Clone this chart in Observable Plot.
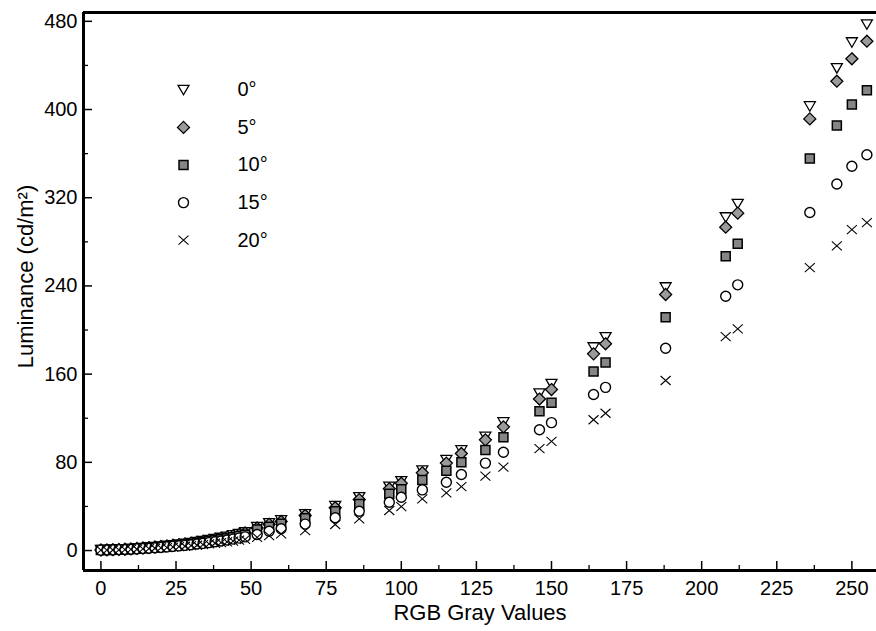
<!DOCTYPE html>
<html><head><meta charset="utf-8">
<script src="https://cdn.jsdelivr.net/npm/d3@7"></script>
<script src="https://cdn.jsdelivr.net/npm/@observablehq/plot@0.6"></script>
<style>
body{margin:0;background:#fff;}
svg{display:block}
</style>
</head><body><div id="chart"></div>
<script>
// ---- data ----
const gray = [0,2,4,6,8,10,12,14,16,18,20,22,24,26,28,30,32,34,36,38,40,42,44,46,48,
  52,56,60,68,78,86,96,100,107,115,120,128,134,146,150,164,168,188,208,212,236,245,250,255];

const lum0 = [0.5,0.6,0.8,1.0,1.3,1.6,2.0,2.4,2.8,3.3,3.8,4.4,5.0,5.6,6.3,7.0,7.8,8.7,9.6,10.6,11.6,12.7,13.9,15.1,16.6,
  21.5,24.8,27.5,33,40.5,48.4,58,63,72.8,82.3,91,103.4,116.4,142.5,151.2,184.4,193.5,238.8,302.3,314.5,403,437.5,461,477.3];
const lum5 = [0.5,0.6,0.8,1.0,1.2,1.5,1.9,2.3,2.7,3.2,3.7,4.2,4.8,5.4,6.0,6.7,7.5,8.3,9.2,10.2,11.1,12.2,13.3,14.5,15.9,
  20.5,23.8,26.4,31.8,38.8,46.2,56,61,70.5,79.3,88,100.4,112.2,137.4,146,178.4,187.5,232.2,293.3,306,391.5,425.7,446,462];
const lum10 = [0.4,0.5,0.7,0.9,1.1,1.4,1.7,2.1,2.5,2.9,3.3,3.9,4.4,4.9,5.5,6.1,6.8,7.6,8.4,9.3,10.2,11.1,12.1,13.2,14.4,
  19,21.5,24.2,29.2,35.7,42.3,51.4,55.5,64,72.3,80,91.3,102.8,126.3,134,162.4,170.5,211.6,267,278.2,355.5,385.5,404.5,417.5];
const lum15 = [0.4,0.5,0.6,0.8,1.0,1.2,1.5,1.8,2.1,2.5,2.9,3.3,3.8,4.2,4.7,5.3,5.9,6.5,7.2,8.0,8.7,9.5,10.4,11.3,12.4,
  14.5,17.5,19.7,24,29.7,35.7,43.8,48.4,55,62,69,79.3,89.2,109.5,116,141.5,148,183.5,230.7,241,306.6,332.4,348.5,359];
const lum20 = [0.3,0.4,0.5,0.6,0.8,1.0,1.2,1.5,1.8,2.1,2.4,2.7,3.1,3.5,3.9,4.4,4.8,5.4,6.0,6.6,7.2,7.9,8.6,9.4,10.2,
  12,13.5,15.1,18.1,23.6,28.7,36.3,39.9,46.9,52.3,58,67.5,75.6,92.5,99,118.6,124.5,154.2,194.1,201,256.6,276.4,291,297.5];

const seriesLabels = ["0°","5°","10°","15°","20°"];
const xTicks = [0,25,50,75,100,125,150,175,200,225,250];
const xMinor = [12.5,37.5,62.5,87.5,112.5,137.5,162.5,187.5,212.5,237.5];
const yTicks = [0,80,160,240,320,400,480];
const yMinor = [40,120,200,280,360,440];
const xTitle = "RGB Gray Values";
const yTitle = "Luminance (cd/m²)";

// ---- layout ----
const W = 876, H = 631, mL = 83, mR = 0, mT = 12, mB = 61;
const xDomain = [-5.8, 258.2], yDomain = [-18.1, 488];
const frameW = W - mL - mR, frameH = H - mT - mB;

// ---- symbols ----
const rad = s => Math.sqrt(s / Math.PI);
const triDown = {draw(c, s){ const r = rad(s); c.moveTo(-1.1*r,-0.9*r); c.lineTo(1.1*r,-0.9*r); c.lineTo(0,r); c.closePath(); }};
const diamond = {draw(c, s){ const r = rad(s)*1.2; c.moveTo(0,-r); c.lineTo(r,0); c.lineTo(0,r); c.lineTo(-r,0); c.closePath(); }};
const square = {draw(c, s){ const r = rad(s)*0.9; c.moveTo(-r,-r); c.lineTo(r,-r); c.lineTo(r,r); c.lineTo(-r,r); c.closePath(); }};
const circle = {draw(c, s){ const r = rad(s); c.moveTo(r,0); c.arc(0,0,r,0,2*Math.PI); c.closePath(); }};
const times = {draw(c, s){ const r = rad(s); c.moveTo(-r,-0.9*r); c.lineTo(r,0.9*r); c.moveTo(-r,0.9*r); c.lineTo(r,-0.9*r); }};

const styles = [
  {symbol: triDown, fill: "white", stroke: "black", strokeWidth: 1.3},
  {symbol: diamond, fill: "#9a9a9a", stroke: "black", strokeWidth: 1.3},
  {symbol: square, fill: "#858585", stroke: "black", strokeWidth: 1.5},
  {symbol: circle, fill: "white", stroke: "black", strokeWidth: 1.4},
  {symbol: times, fill: "none", stroke: "black", strokeWidth: 1.1}
];
const allSeries = [lum0, lum5, lum10, lum15, lum20];

const dataMarks = allSeries.map((vals, k) =>
  Plot.dot(gray.map((g, i) => ({gray: g, lum: vals[i]})), {x: "gray", y: "lum", r: 5, ...styles[k]})
);

const legendMarks = [];
seriesLabels.forEach((lab, k) => {
  legendMarks.push(Plot.dot([lab], {frameAnchor: "top-left", dx: 100, dy: 77.3 + k*37.6, r: 5, ...styles[k]}));
  legendMarks.push(Plot.text([lab], {frameAnchor: "top-left", dx: 154, dy: 77.3 + k*37.6, text: d => d,
    textAnchor: "start", lineAnchor: "middle", fontSize: 20, fill: "black"}));
});

const chart = Plot.plot({
  width: W, height: H,
  marginLeft: mL, marginRight: mR, marginTop: mT, marginBottom: mB,
  style: {fontFamily: "'Liberation Sans', Arial, Helvetica, sans-serif", fontSize: "20px", color: "black", background: "white"},
  x: {domain: xDomain},
  y: {domain: yDomain},
  marks: [
    Plot.axisX({ticks: xTicks, tickSize: 0, tickPadding: 10, label: null, tickFormat: d3.format("d"), fill: "black"}),
    Plot.axisY({ticks: yTicks, tickSize: 0, tickPadding: 6, label: null, tickFormat: d3.format("d"), fill: "black"}),
    Plot.tickX(xTicks, {x: d => d, insetTop: frameH - 9, strokeWidth: 1.5}),
    Plot.tickX(xMinor, {x: d => d, insetTop: frameH - 5, strokeWidth: 1.3}),
    Plot.tickY(yTicks, {y: d => d, insetRight: frameW - 9, strokeWidth: 1.5}),
    Plot.tickY(yMinor, {y: d => d, insetRight: frameW - 5, strokeWidth: 1.3}),
    ...dataMarks,
    ...legendMarks,
    Plot.ruleX([xDomain[0]], {strokeWidth: 3}),
    Plot.ruleY([yDomain[0], yDomain[1]], {strokeWidth: 3}),
    Plot.text([xTitle], {frameAnchor: "bottom", dy: 42, text: d => d, fontSize: 22,
      textAnchor: "middle", lineAnchor: "middle", fill: "black"}),
    Plot.text([yTitle], {frameAnchor: "left", dx: -58, dy: -15, rotate: -90, text: d => d, fontSize: 22,
      textAnchor: "middle", lineAnchor: "middle", fill: "black"})
  ]
});
document.getElementById("chart").appendChild(chart);
</script>
</body></html>
